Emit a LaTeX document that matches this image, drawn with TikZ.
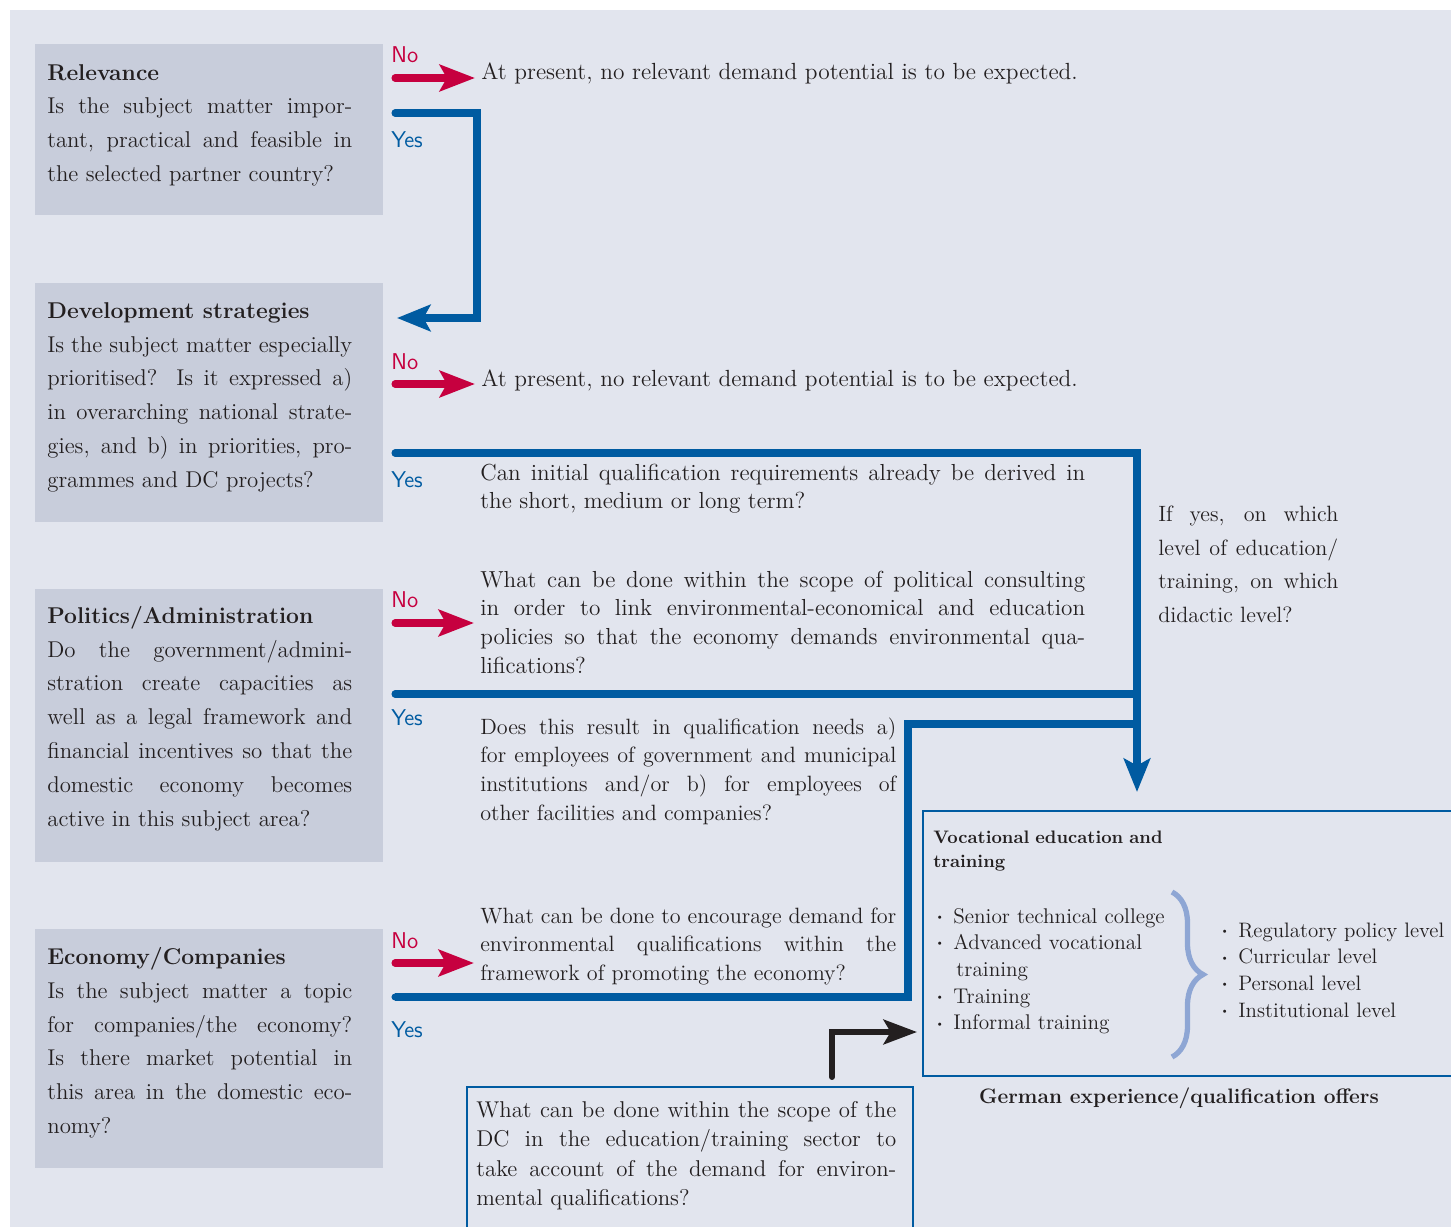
\documentclass[tikz,border=0pt]{standalone}
\usepackage{fontspec}
\usepackage{tikz}
\usetikzlibrary{arrows.meta,decorations.pathreplacing}

\definecolor{panelbg}{HTML}{E2E5EE}
\definecolor{askgray}{HTML}{C8CDDB}
\definecolor{yesblue}{HTML}{005BA1}
\definecolor{nored}{HTML}{C6003F}
\definecolor{bracebl}{HTML}{8EA6D4}
\definecolor{inkcol}{HTML}{231F20}

\tolerance=9999
\hbadness=10000

\newcommand{\bul}{\makebox[0.4cm][l]{\hspace{0.04cm}\raisebox{0.3ex}{\scalebox{0.55}{\textbullet}}}}

\begin{document}
\begin{tikzpicture}[x=0.02cm, y=-0.02cm, text=inkcol,
    askbox/.style={fill=askgray, inner sep=0pt, minimum width=6.96cm, anchor=north west},
    asktext/.style={anchor=base west, inner sep=0pt, text width=6.1cm, align=justify,
      font=\fontsize{13}{19.35}\selectfont},
    midtext/.style={anchor=base west, inner sep=0pt, align=justify,
      font=\fontsize{13.2}{16.5}\selectfont},
    listtext/.style={anchor=base west, inner sep=0pt, text width=5cm, align=left,
      font=\fontsize{12.1}{15.2}\selectfont},
    nolabel/.style={anchor=base west, inner sep=0pt, text=nored,
      font=\sffamily\fontsize{13}{15}\selectfont},
    yeslabel/.style={nolabel, text=yesblue},
    noline/.style={draw=nored, line width=4pt, line cap=round,
      -{Stealth[length=20pt,width=15pt,inset=4pt]}, shorten >=0.12cm},
    yesline/.style={draw=yesblue, line width=4pt, line cap=round},
    yestip/.style={-{Stealth[length=19pt,width=15pt,inset=4pt]}},
    dcline/.style={draw=inkcol, line width=3.4pt, line cap=round,
      -{Stealth[length=19pt,width=14pt,inset=4pt]}},
    offerbox/.style={draw=yesblue, line width=1.2pt, inner sep=0pt, anchor=north west},
  ]
  \useasboundingbox (0,0) rectangle (1451,1227);
  \clip (0,0) rectangle (1451,1227);
  \fill[panelbg] (10,10) rectangle (1451,1227);

  % question boxes on the left
  \node[askbox, minimum height=3.42cm] (relbox) at (35,44) {};
  \node[askbox, minimum height=4.78cm] (devbox) at (35,283) {};
  \node[askbox, minimum height=5.46cm] (polbox) at (35,589) {};
  \node[askbox, minimum height=4.78cm] (ecobox) at (35,929) {};

  \node[asktext] (reltxt) at (47,80) {\textbf{Relevance}\\
    Is the subject matter impor-\linebreak tant, practical and feasible in\linebreak
    the selected partner country?};
  \node[asktext] (devtxt) at (47,318) {\textbf{Development strategies}\\
    Is the subject matter especially\linebreak prioritised? Is it expressed a)\linebreak
    in overarching national strate-\linebreak gies, and b) in priorities, pro-\linebreak
    grammes and DC projects?};
  \node[asktext] (poltxt) at (47,623) {\textbf{Politics/Administration}\\
    Do the government/admini-\linebreak stration create capacities as\linebreak
    well as a legal framework and\linebreak financial incentives so that the\linebreak
    domestic economy becomes\linebreak active in this subject area?};
  \node[asktext] (ecotxt) at (47,964) {\textbf{Economy/Companies}\\
    Is the subject matter a topic\linebreak for companies/the economy?\linebreak
    Is there market potential in\linebreak this area in the domestic eco-\linebreak nomy?};

  % no / yes labels
  \node[nolabel] (no1lab) at (391,62) {No};
  \node[nolabel] (no2lab) at (391,369) {No};
  \node[nolabel] (no3lab) at (391,607) {No};
  \node[nolabel] (no4lab) at (391,948) {No};
  \node[yeslabel] (yes1lab) at (391,147) {Yes};
  \node[yeslabel] (yes2lab) at (391,487) {Yes};
  \node[yeslabel] (yes3lab) at (391,725) {Yes};
  \node[yeslabel] (yes4lab) at (391,1037) {Yes};

  % answers and follow-up questions
  \node[anchor=base west, inner sep=0pt, font=\fontsize{13.3}{16}\selectfont] (pres1) at (481,79)
    {At present, no relevant demand potential is to be expected.};
  \node[anchor=base west, inner sep=0pt, font=\fontsize{13.3}{16}\selectfont] (pres2) at (481,386)
    {At present, no relevant demand potential is to be expected.};
  \node[midtext, text width=12.1cm] (q1) at (480,480)
    {Can initial qualification requirements already be derived in\linebreak
    the short, medium or long term?};
  \node[midtext, text width=12.1cm] (q2) at (480,587)
    {What can be done within the scope of political consulting\linebreak
    in order to link environmental-economical and education\linebreak
    policies so that the economy demands environmental qua-\linebreak lifications?};
  \node[midtext, text width=8.32cm, font=\fontsize{12.6}{16.5}\selectfont] (q3) at (480,734)
    {Does this result in qualification needs a)\linebreak
    for employees of government and municipal\linebreak
    institutions and/or b) for employees of\linebreak other facilities and companies?};
  \node[midtext, text width=8.32cm, font=\fontsize{12.6}{16.5}\selectfont] (q4) at (480,923)
    {What can be done to encourage demand for\linebreak
    environmental qualifications within the\linebreak framework of promoting the economy?};
  \node[asktext, text width=3.6cm, font=\fontsize{12.6}{19.35}\selectfont] (ifyes) at (1158,521)
    {If yes, on which\linebreak level of education/\linebreak training, on which\linebreak didactic level?};

  % DC box at the bottom
  \node[offerbox, minimum width=8.92cm, minimum height=3.4cm] (dcbox) at (466,1086) {};
  \node[midtext, text width=8.4cm, font=\fontsize{13}{16.8}\selectfont] (dctxt) at (476,1117)
    {What can be done within the scope of the\linebreak DC in the education/training sector to\linebreak
    take account of the demand for environ-\linebreak mental qualifications?};

  % offers box
  \node[offerbox, minimum width=10.9cm, minimum height=5.3cm] (voc) at (922,810) {};
  \node[listtext, text width=6cm, font=\bfseries\fontsize{10.3}{14.2}\selectfont]
    (vochead) at (933,843) {Vocational education and\\ training};
  \node[listtext] (voclist) at (933,923) {\bul Senior technical college\\ \bul Advanced vocational\\
    \hspace*{0.46cm}training\\ \bul Training\\ \bul Informal training};
  \node[listtext, font=\fontsize{11.9}{15.2}\selectfont]
    (levels) at (1218,937) {\bul Regulatory policy level\\ \bul Curricular level\\
    \bul Personal level\\ \bul Institutional level};
  \draw[bracebl, line width=3pt, decorate, decoration={brace, amplitude=0.62cm}]
    (1172,892) -- (1172,1057);
  \node[anchor=base, inner sep=0pt, font=\bfseries\fontsize{11.9}{14}\selectfont] (offers)
    at (1179,1103) {German experience/qualification offers};

  % red no arrows
  \coordinate (no1) at (395,78);
  \coordinate (no2) at (395,384);
  \coordinate (no3) at (395,623);
  \coordinate (no4) at (395,963);
  \draw[noline] (no1) -- (no1 -| pres1.west);
  \draw[noline] (no2) -- (no2 -| pres2.west);
  \draw[noline] (no3) -- (no3 -| q2.west);
  \draw[noline] (no4) -- (no4 -| q4.west);

  % blue yes lines
  \coordinate (yes1) at (395,113);
  \coordinate (devin) at (397,318);
  \coordinate (yes2) at (395,453);
  \coordinate (down) at (1137,792);
  \coordinate (yes3) at (395,694);
  \coordinate (yes4) at (395,997);
  \coordinate (jog) at (908,724);
  \draw[yesline, yestip] (yes1) -- ++(82,0) |- (devin);
  \draw[yesline, yestip] (yes2) -| (down);
  \draw[yesline] (yes3) -- (yes3 -| down);
  \draw[yesline, line cap=butt] (yes4) -| (jog) -- (jog -| down);
  \fill[yesblue] (yes4) circle (2pt);

  % DC arrow into offers
  \coordinate (dcout) at (832,1077);
  \coordinate (vocin) at (917,1032);
  \draw[dcline] (dcout) |- (vocin);
\end{tikzpicture}
\end{document}
